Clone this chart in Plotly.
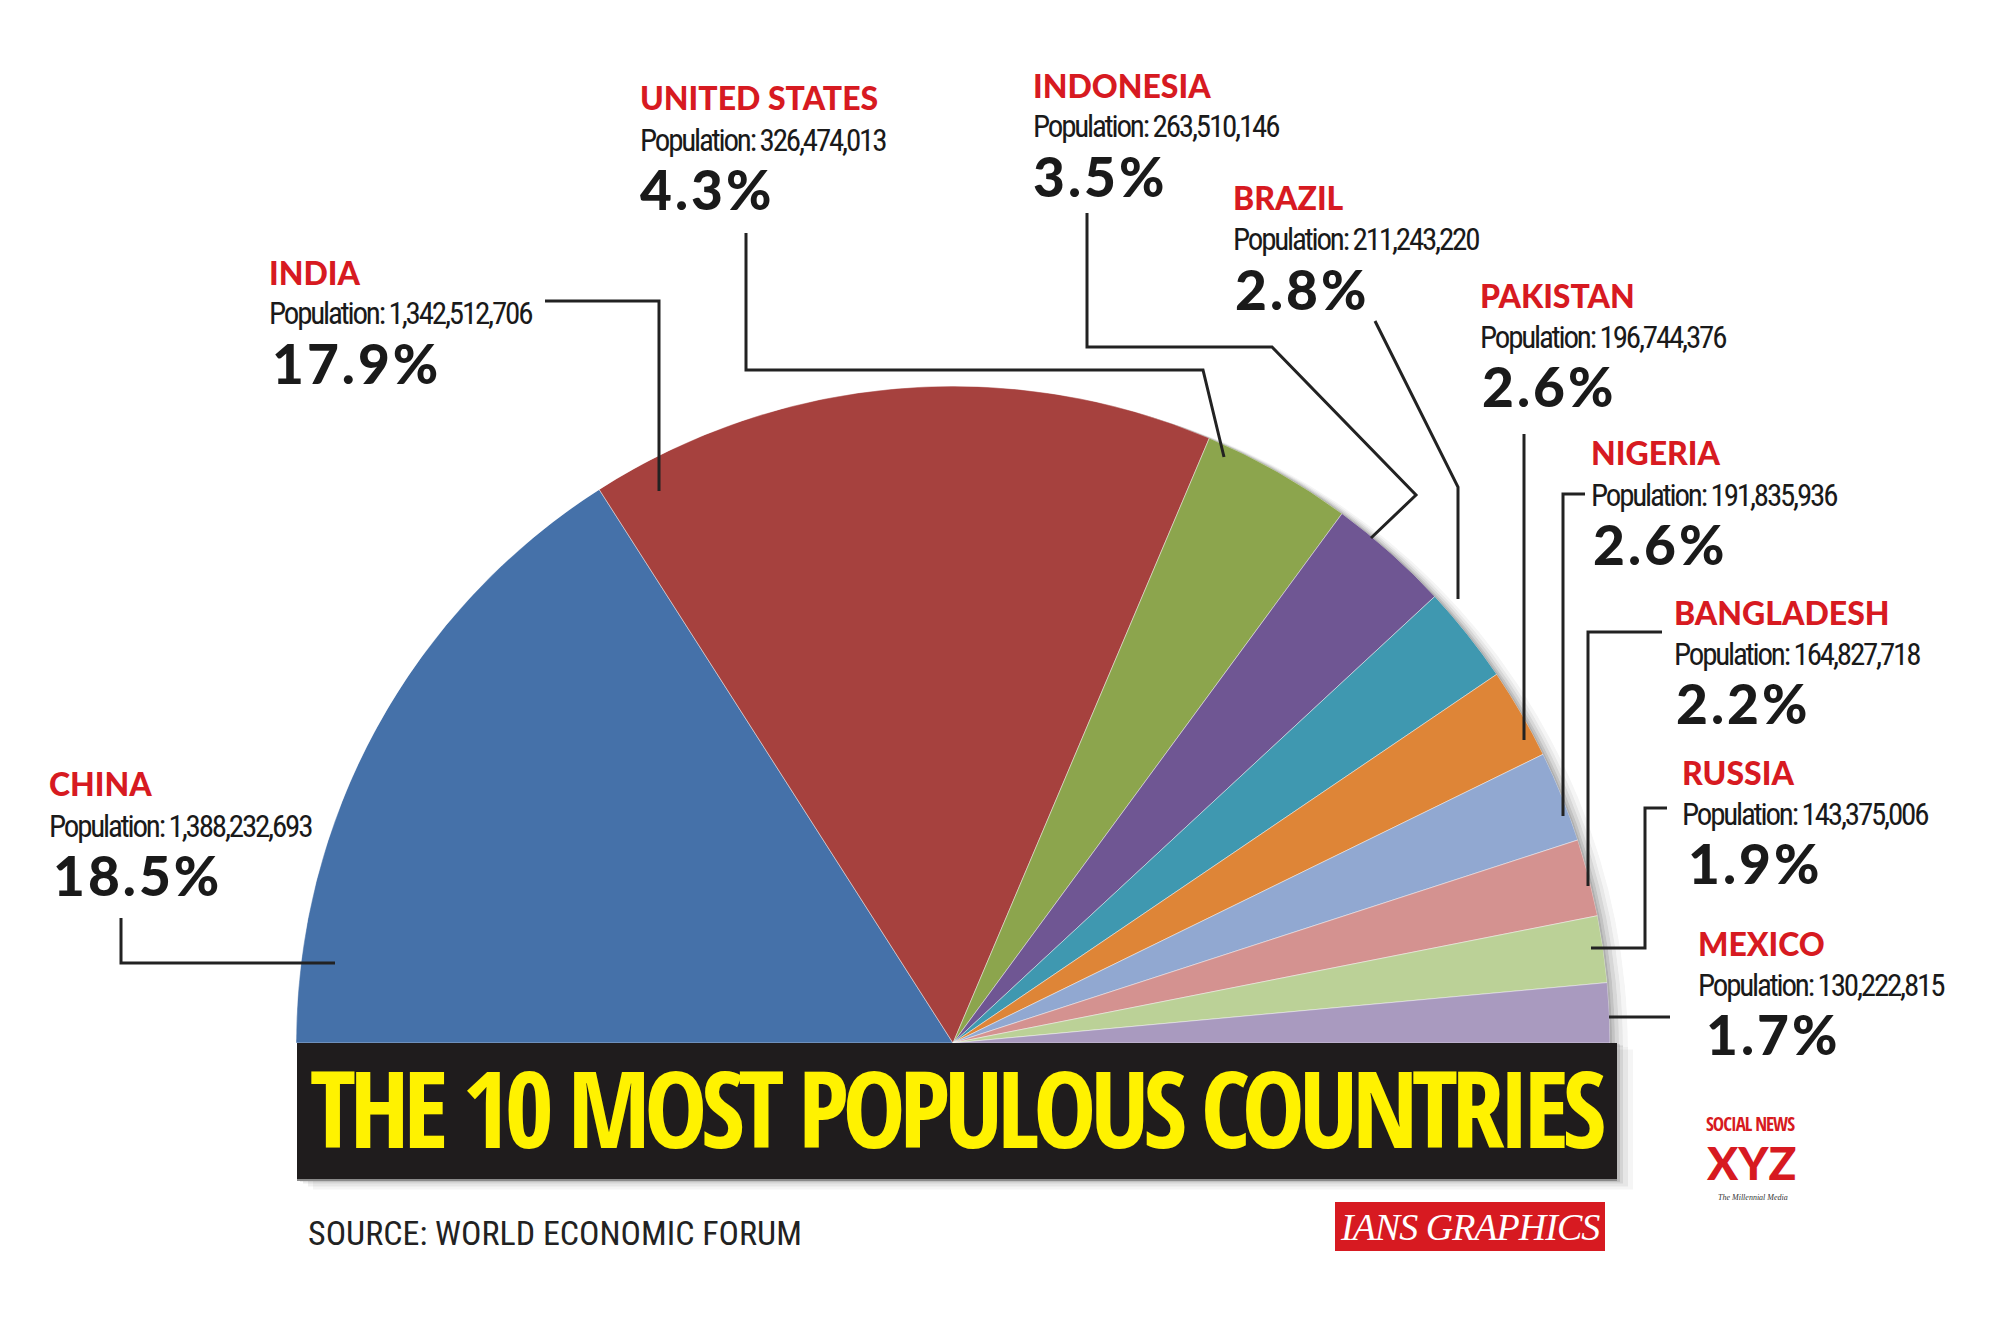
import plotly.graph_objects as go

# ---------------- data ----------------
countries = ["CHINA", "INDIA", "UNITED STATES", "INDONESIA", "BRAZIL",
             "PAKISTAN", "NIGERIA", "BANGLADESH", "RUSSIA", "MEXICO"]
populations = [1388232693, 1342512706, 326474013, 263510146, 211243220,
               196744376, 191835936, 164827718, 143375006, 130222815]
shares = [18.5, 17.9, 4.3, 3.5, 2.8, 2.6, 2.6, 2.2, 1.9, 1.7]
slice_colors = ["#4571A9", "#A6413E", "#8CA54D", "#6F5693", "#3F98B0",
                "#DE8537", "#91A8D1", "#D49290", "#BBD197", "#A99ABF"]
title_text = "THE 10 MOST POPULOUS COUNTRIES"
source_text = "SOURCE: WORLD ECONOMIC FORUM"
credit_text = "IANS GRAPHICS"

# ---------------- layout helpers ----------------
W, H = 2000, 1338
def px(x): return x / W
def py(y): return 1 - y / H

# semicircle: total share spans 180 degrees
total = sum(shares)
k = 180.0 / total
starts = []
acc = 0.0
for v in shares:
    starts.append(acc)
    acc += v
theta = [(s + v / 2) * k for s, v in zip(starts, shares)]
widths = [v * k for v in shares]

# pie placement (pixels)
cx, cy, R = 953, 1043, 657
dom_x = [px(cx - R), px(cx + R)]
dom_y = [py(cy), py(cy - R)]

fig = go.Figure()

# soft shadow layers (offset polar subplots)
shadow_offsets = [(18, 0.04), (13, 0.05), (9, 0.07), (5, 0.09), (2, 0.10)]
polar_layouts = {}
for i, (off, op) in enumerate(shadow_offsets):
    name = "polar" if i == 0 else f"polar{i+1}"
    fig.add_trace(go.Barpolar(
        r=[1], theta=[90], width=[180], base=0,
        marker=dict(color=f"rgba(0,0,0,{op})", line=dict(width=0)),
        subplot=name, hoverinfo="skip", showlegend=False))
    polar_layouts[name] = dict(
        domain=dict(x=[px(cx - R + off), px(cx + R + off)],
                    y=[py(cy + off * 0.3), py(cy - R + off * 0.3)]),
        sector=[0, 180], bgcolor="rgba(0,0,0,0)",
        radialaxis=dict(visible=False, range=[0, 1]),
        angularaxis=dict(visible=False, rotation=180, direction="clockwise"))

main = f"polar{len(shadow_offsets)+1}"
fig.add_trace(go.Barpolar(
    r=[1] * len(shares), theta=theta, width=widths, base=0,
    marker=dict(color=slice_colors, line=dict(color="rgba(255,255,255,0.45)", width=1)),
    text=countries, hoverinfo="text", subplot=main, showlegend=False))
polar_layouts[main] = dict(
    domain=dict(x=dom_x, y=dom_y), sector=[0, 180], bgcolor="rgba(0,0,0,0)",
    radialaxis=dict(visible=False, range=[0, 1]),
    angularaxis=dict(visible=False, rotation=180, direction="clockwise"))

# label placement (pixels): name x, name y, pct x
label_pos = [(47, 784, 51), (267, 272, 270), (638, 98, 638), (1031, 85, 1031),
             (1231, 198, 1233), (1478, 295, 1480), (1589, 453, 1591),
             (1672, 612, 1674), (1680, 772, 1686), (1696, 943, 1704)]

RED = "#D71A21"
HEAVY = "Lato Black, Lato, sans-serif"
COND = "Roboto Condensed, DejaVu Sans Condensed, sans-serif"
TITLE_FONT = "Open Sans Condensed, Roboto Condensed, sans-serif"

annotations = []
for (c, p, s), (nx, ny, qx) in zip(zip(countries, populations, shares), label_pos):
    annotations.append(dict(x=px(nx), y=py(ny), xref="paper", yref="paper",
                            xanchor="left", yanchor="middle", showarrow=False,
                            text=c, font=dict(family=HEAVY, size=32, color=RED, weight=900)))
    annotations.append(dict(x=px(nx), y=py(ny + 42), xref="paper", yref="paper",
                            xanchor="left", yanchor="middle", showarrow=False,
                            text=f'<span style="letter-spacing:-2.2px">Population: {p:,}</span>',
                            font=dict(family=COND, size=31, color="#1a1a1a")))
    annotations.append(dict(x=px(qx), y=py(ny + 91), xref="paper", yref="paper",
                            xanchor="left", yanchor="middle", showarrow=False,
                            text=f'<span style="letter-spacing:3px">{s}%</span>',
                            font=dict(family=HEAVY, size=55, color="#1a1a1a", weight=900)))

# title
annotations.append(dict(x=px(957), y=py(1107), xref="paper", yref="paper",
                        xanchor="center", yanchor="middle", showarrow=False,
                        text=f'<span style="letter-spacing:-6.3px">{title_text}</span>',
                        font=dict(family=TITLE_FONT, size=106, color="#FFF200", weight="bold")))
# source
annotations.append(dict(x=px(306), y=py(1233), xref="paper", yref="paper",
                        xanchor="left", yanchor="middle", showarrow=False,
                        text=source_text, font=dict(family=COND, size=34, color="#222222")))
# credit
annotations.append(dict(x=px(1470), y=py(1227), xref="paper", yref="paper",
                        xanchor="center", yanchor="middle", showarrow=False,
                        text=f'<i><span style="letter-spacing:-1px">{credit_text}</span></i>',
                        font=dict(family="Liberation Serif, serif", size=38, color="white")))
# social news logo
annotations.append(dict(x=px(1750), y=py(1124), xref="paper", yref="paper",
                        xanchor="center", yanchor="middle", showarrow=False,
                        text='<span style="letter-spacing:-1px">SOCIAL NEWS</span>',
                        font=dict(family=TITLE_FONT, size=19, color=RED, weight="bold")))
annotations.append(dict(x=px(1751), y=py(1162), xref="paper", yref="paper",
                        xanchor="center", yanchor="middle", showarrow=False,
                        text="XYZ", font=dict(family=HEAVY, size=46, color=RED, weight=900)))
annotations.append(dict(x=px(1753), y=py(1197), xref="paper", yref="paper",
                        xanchor="center", yanchor="middle", showarrow=False,
                        text="<i>The Millennial Media</i>",
                        font=dict(family="Liberation Serif, serif", size=8, color="#333333")))

# leader lines (pixels)
leaders = [
    [(121, 918), (121, 963), (335, 963)],
    [(545, 301), (659, 301), (659, 491)],
    [(746, 233), (746, 370), (1203, 370), (1224, 457)],
    [(1087, 213), (1087, 347), (1272, 347), (1416, 495), (1371, 538)],
    [(1375, 321), (1458, 487), (1458, 599)],
    [(1524, 434), (1524, 740)],
    [(1585, 494), (1563, 494), (1563, 816)],
    [(1662, 632), (1588, 632), (1588, 886)],
    [(1667, 808), (1645, 808), (1645, 948), (1591, 948)],
    [(1670, 1017), (1609, 1017)],
]
shapes = []
for pts in leaders:
    path = "M " + " L ".join(f"{px(x):.5f},{py(y):.5f}" for x, y in pts)
    shapes.append(dict(type="path", path=path, xref="paper", yref="paper",
                       line=dict(color="#222222", width=3), layer="above"))

# title box shadow + box
for off, op in [(16, 0.04), (11, 0.06), (6, 0.08), (3, 0.11)]:
    shapes.append(dict(type="rect", xref="paper", yref="paper",
                       x0=px(297 + off), x1=px(1617 + off), y0=py(1180 + off * 0.6), y1=py(1043 + off * 0.4),
                       fillcolor=f"rgba(0,0,0,{op})", line=dict(width=0), layer="above"))
shapes.append(dict(type="rect", xref="paper", yref="paper",
                   x0=px(297), x1=px(1617), y0=py(1180), y1=py(1043),
                   fillcolor="#1F1C1D", line=dict(width=0), layer="above"))
shapes.append(dict(type="line", xref="paper", yref="paper",
                   x0=px(297), x1=px(1617), y0=py(1180), y1=py(1180),
                   line=dict(color="#8a8a8a", width=2), layer="above"))
# credit box
shapes.append(dict(type="rect", xref="paper", yref="paper",
                   x0=px(1335), x1=px(1605), y0=py(1251), y1=py(1202),
                   fillcolor="#D71A21", line=dict(width=0), layer="above"))

fig.update_layout(
    width=W, height=H, margin=dict(l=0, r=0, t=0, b=0),
    paper_bgcolor="white", plot_bgcolor="white",
    showlegend=False, annotations=annotations, shapes=shapes,
    **polar_layouts)

fig.write_html("out.html")
